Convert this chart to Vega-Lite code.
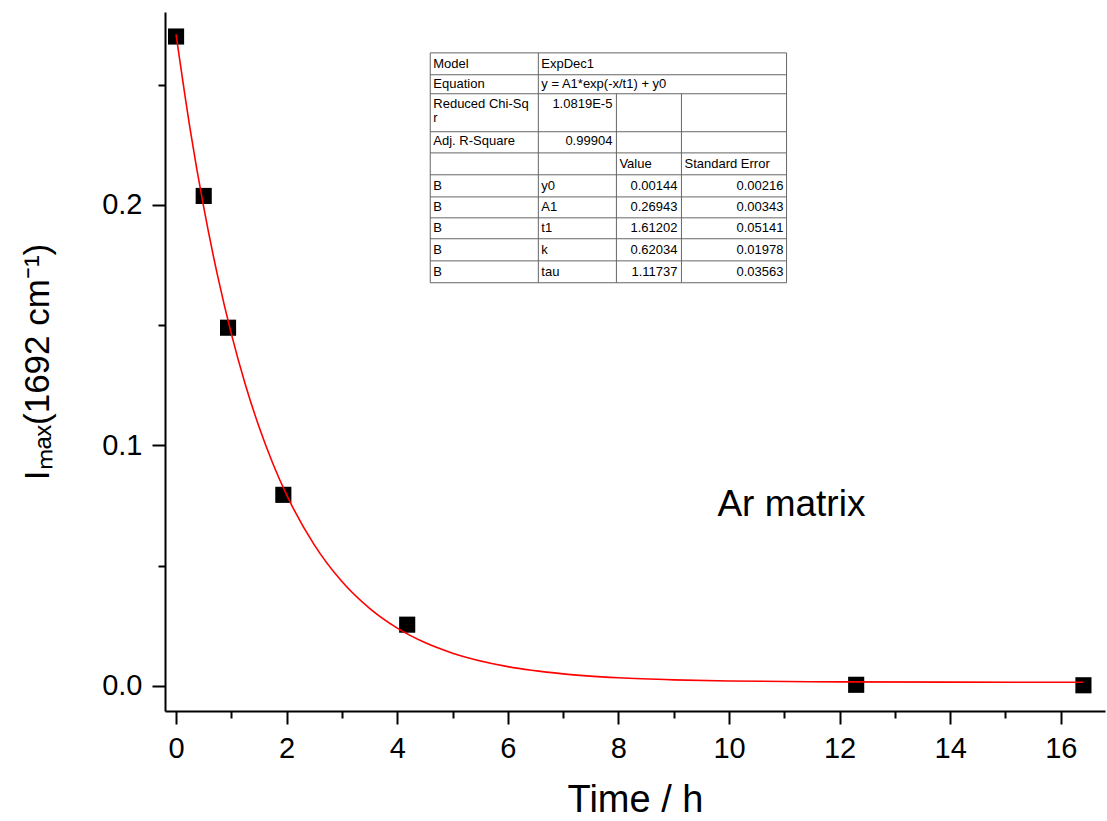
{
  "$schema": "https://vega.github.io/schema/vega-lite/v6.json",
  "width": 940,
  "height": 699,
  "autosize": {"type": "none"},
  "padding": {"left": 165, "top": 12, "right": 2, "bottom": 110},
  "background": "white",
  "config": {
    "view": {"stroke": null},
    "font": "Liberation Sans",
    "axis": {"grid": false, "domainColor": "black", "domainWidth": 2, "tickColor": "black", "tickWidth": 2, "labelColor": "black", "titleColor": "black", "labelFont": "Liberation Sans", "titleFont": "Liberation Sans", "labelFontSize": 29, "titleFontSize": 35, "titleFontWeight": "normal"}
  },
  "datasets": {
    "points": [
      {"t": 0, "I": 0.2700},
      {"t": 0.5, "I": 0.2037},
      {"t": 0.94, "I": 0.1489},
      {"t": 1.94, "I": 0.0794},
      {"t": 4.18, "I": 0.0254},
      {"t": 12.3, "I": 0.0004},
      {"t": 16.41, "I": 0.0002}
    ],
    "fit": [
      {"t": 0, "I": 0.27087},
      {"t": 0.25, "I": 0.23216},
      {"t": 0.5, "I": 0.19902},
      {"t": 0.75, "I": 0.17064},
      {"t": 1.0, "I": 0.14632},
      {"t": 1.25, "I": 0.12551},
      {"t": 1.5, "I": 0.10769},
      {"t": 1.75, "I": 0.09243},
      {"t": 2.0, "I": 0.07935},
      {"t": 2.5, "I": 0.05858},
      {"t": 3.0, "I": 0.04334},
      {"t": 3.5, "I": 0.03217},
      {"t": 4.0, "I": 0.02397},
      {"t": 4.5, "I": 0.01796},
      {"t": 5.0, "I": 0.01356},
      {"t": 6.0, "I": 0.00796},
      {"t": 7.0, "I": 0.00494},
      {"t": 8.0, "I": 0.00332},
      {"t": 9.0, "I": 0.00245},
      {"t": 10.0, "I": 0.00198},
      {"t": 12.0, "I": 0.00160},
      {"t": 14.0, "I": 0.00149},
      {"t": 16.41, "I": 0.00145}
    ],
    "gridlines": [
      {"x": 4.597, "x2": 11.041, "y": 0.2632, "y2": 0.2632},
      {"x": 4.597, "x2": 11.041, "y": 0.2541, "y2": 0.2541},
      {"x": 4.597, "x2": 11.041, "y": 0.2462, "y2": 0.2462},
      {"x": 4.597, "x2": 11.041, "y": 0.2304, "y2": 0.2304},
      {"x": 4.597, "x2": 11.041, "y": 0.2216, "y2": 0.2216},
      {"x": 4.597, "x2": 11.041, "y": 0.2125, "y2": 0.2125},
      {"x": 4.597, "x2": 11.041, "y": 0.2033, "y2": 0.2033},
      {"x": 4.597, "x2": 11.041, "y": 0.1946, "y2": 0.1946},
      {"x": 4.597, "x2": 11.041, "y": 0.1859, "y2": 0.1859},
      {"x": 4.597, "x2": 11.041, "y": 0.1767, "y2": 0.1767},
      {"x": 4.597, "x2": 11.041, "y": 0.1676, "y2": 0.1676},
      {"x": 4.597, "x2": 4.597, "y": 0.2632, "y2": 0.1676},
      {"x": 6.552, "x2": 6.552, "y": 0.2632, "y2": 0.1676},
      {"x": 7.964, "x2": 7.964, "y": 0.2462, "y2": 0.1676},
      {"x": 9.140, "x2": 9.140, "y": 0.2462, "y2": 0.1676},
      {"x": 11.041, "x2": 11.041, "y": 0.2632, "y2": 0.1676}
    ],
    "tableLeft": [
      {"s": "Model", "x": 4.652, "y": 0.2586},
      {"s": "ExpDec1", "x": 6.606, "y": 0.2586},
      {"s": "Equation", "x": 4.652, "y": 0.2503},
      {"s": "y = A1*exp(-x/t1) + y0", "x": 6.606, "y": 0.2503},
      {"s": "Reduced Chi-Sq", "x": 4.652, "y": 0.2420},
      {"s": "r", "x": 4.652, "y": 0.2362},
      {"s": "Adj. R-Square", "x": 4.652, "y": 0.2266},
      {"s": "Value", "x": 8.018, "y": 0.2170},
      {"s": "Standard Error", "x": 9.195, "y": 0.2170},
      {"s": "B", "x": 4.652, "y": 0.2079},
      {"s": "y0", "x": 6.606, "y": 0.2079},
      {"s": "B", "x": 4.652, "y": 0.1992},
      {"s": "A1", "x": 6.606, "y": 0.1992},
      {"s": "B", "x": 4.652, "y": 0.1904},
      {"s": "t1", "x": 6.606, "y": 0.1904},
      {"s": "B", "x": 4.652, "y": 0.1813},
      {"s": "k", "x": 6.606, "y": 0.1813},
      {"s": "B", "x": 4.652, "y": 0.1721},
      {"s": "tau", "x": 6.606, "y": 0.1721}
    ],
    "tableRight": [
      {"s": "1.0819E-5", "x": 7.891, "y": 0.2420},
      {"s": "0.99904", "x": 7.891, "y": 0.2266},
      {"s": "0.00144", "x": 9.068, "y": 0.2079},
      {"s": "0.00216", "x": 10.986, "y": 0.2079},
      {"s": "0.26943", "x": 9.068, "y": 0.1992},
      {"s": "0.00343", "x": 10.986, "y": 0.1992},
      {"s": "1.61202", "x": 9.068, "y": 0.1904},
      {"s": "0.05141", "x": 10.986, "y": 0.1904},
      {"s": "0.62034", "x": 9.068, "y": 0.1813},
      {"s": "0.01978", "x": 10.986, "y": 0.1813},
      {"s": "1.11737", "x": 9.068, "y": 0.1721},
      {"s": "0.03563", "x": 10.986, "y": 0.1721}
    ],
    "annot": [
      {"s": "Ar matrix", "x": 9.79, "y": 0.0753}
    ]
  },
  "layer": [
    {
      "data": {"name": "points"},
      "mark": {"type": "point", "shape": "square", "filled": true, "color": "black", "opacity": 1, "size": 260},
      "encoding": {
        "x": {"field": "t", "type": "quantitative", "scale": {"domain": [-0.2, 16.8], "nice": false, "zero": false},
          "axis": {"title": "Time / h", "titleFontSize": 38, "values": [0,1,2,3,4,5,6,7,8,9,10,11,12,13,14,15,16], "labelExpr": "datum.value % 2 === 0 ? datum.label : ''", "tickSize": {"condition": {"test": "datum.value % 2 === 0", "value": 13}, "value": 7}, "labelPadding": 10, "titlePadding": 18, "labelFlush": false}},
        "y": {"field": "I", "type": "quantitative", "scale": {"domain": [-0.0105, 0.2802], "nice": false, "zero": false},
          "axis": {"title": "Iₘₐₓ(1692 cm⁻¹)", "values": [0, 0.05, 0.1, 0.15, 0.2, 0.25], "format": ".1f", "labelExpr": "abs(datum.value*10 - round(datum.value*10)) < 0.01 ? format(datum.value, '.1f') : ''", "tickSize": {"condition": {"test": "abs(datum.value*10 - round(datum.value*10)) < 0.01", "value": 13}, "value": 7}, "labelPadding": 10, "titlePadding": 46, "labelFlush": false}}
      }
    },
    {
      "data": {"name": "fit"},
      "mark": {"type": "line", "color": "#ff0000", "strokeWidth": 1.6, "interpolate": "monotone"},
      "encoding": {
        "x": {"field": "t", "type": "quantitative"},
        "y": {"field": "I", "type": "quantitative"}
      }
    },
    {
      "data": {"name": "gridlines"},
      "mark": {"type": "rule", "color": "#666666", "strokeWidth": 1},
      "encoding": {
        "x": {"field": "x", "type": "quantitative"},
        "x2": {"field": "x2"},
        "y": {"field": "y", "type": "quantitative"},
        "y2": {"field": "y2"}
      }
    },
    {
      "data": {"name": "tableLeft"},
      "mark": {"type": "text", "align": "left", "baseline": "middle", "fontSize": 13, "font": "Liberation Sans", "color": "black"},
      "encoding": {
        "x": {"field": "x", "type": "quantitative"},
        "y": {"field": "y", "type": "quantitative"},
        "text": {"field": "s"}
      }
    },
    {
      "data": {"name": "tableRight"},
      "mark": {"type": "text", "align": "right", "baseline": "middle", "fontSize": 13, "font": "Liberation Sans", "color": "black"},
      "encoding": {
        "x": {"field": "x", "type": "quantitative"},
        "y": {"field": "y", "type": "quantitative"},
        "text": {"field": "s"}
      }
    },
    {
      "data": {"name": "annot"},
      "mark": {"type": "text", "align": "left", "baseline": "middle", "fontSize": 37, "font": "Liberation Sans", "color": "black"},
      "encoding": {
        "x": {"field": "x", "type": "quantitative"},
        "y": {"field": "y", "type": "quantitative"},
        "text": {"field": "s"}
      }
    }
  ]
}
